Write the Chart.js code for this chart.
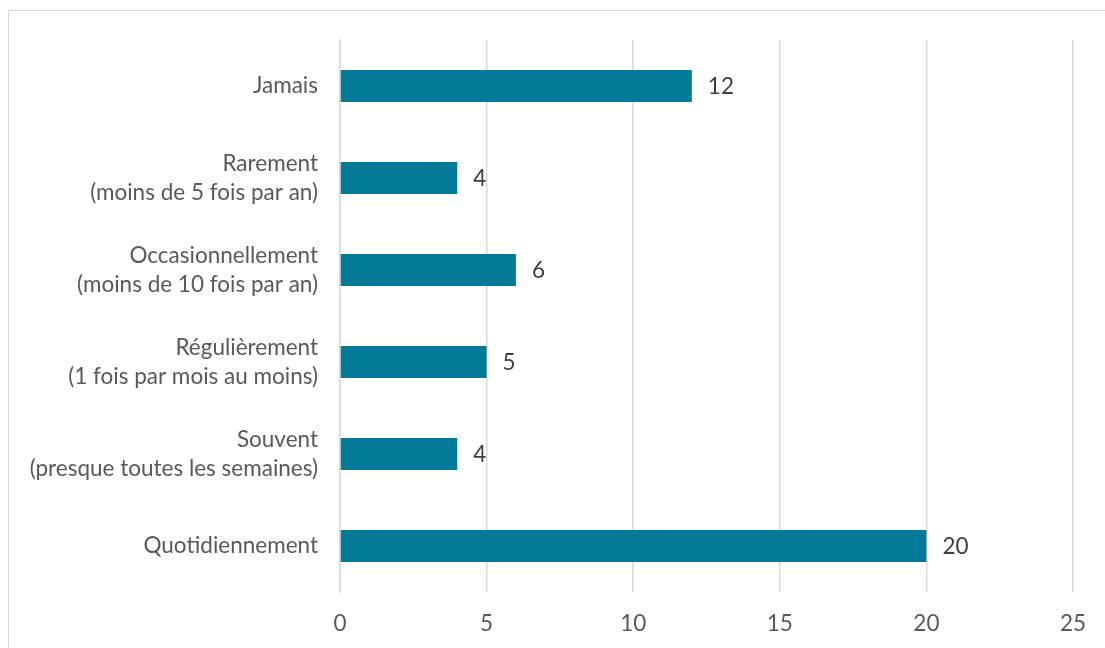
<!DOCTYPE html>
<html>
<head>
<meta charset="utf-8">
<script src="https://cdn.jsdelivr.net/npm/chart.js@4"></script>
<style>
html,body{margin:0;padding:0;background:#fff;overflow:hidden;}
#wrap{position:absolute;left:0;top:0;width:1105px;height:648px;}
#frame{position:absolute;left:8px;top:10px;width:1200px;height:700px;border-left:1.5px solid #d9d9d9;border-top:1.5px solid #d9d9d9;box-sizing:border-box;}
canvas{position:absolute;left:0;top:0;}
</style>
</head>
<body>
<div id="wrap">
<div id="frame"></div>
<canvas id="c" width="1105" height="648"></canvas>
</div>
<script>
const categories = [
  ["Jamais"],
  ["Rarement", "(moins de 5 fois par an)"],
  ["Occasionnellement", "(moins de 10 fois par an)"],
  ["Régulièrement", "(1 fois par mois au moins)"],
  ["Souvent", "(presque toutes les semaines)"],
  ["Quotidiennement"]
];
const values = [12, 4, 6, 5, 4, 20];
const xTicks = [0, 5, 10, 15, 20, 25];

const FONT = "Lato, sans-serif";
const FS = 22.5;
const labelPlugin = {
  id: 'valueLabels',
  afterDatasetsDraw(chart) {
    const ctx = chart.ctx;
    const meta = chart.getDatasetMeta(0);
    ctx.save();
    ctx.font = FS + "px " + FONT;
    ctx.fillStyle = "#404040";
    ctx.textAlign = "left";
    ctx.textBaseline = "middle";
    meta.data.forEach((bar, i) => {
      ctx.fillText(String(values[i]), bar.x + 16, bar.y + 1);
    });
    ctx.restore();
  }
};

new Chart(document.getElementById('c'), {
  type: 'bar',
  data: {
    labels: categories,
    datasets: [{
      data: values,
      backgroundColor: '#047A99',
      borderWidth: 0,
      barPercentage: 0.35,
      categoryPercentage: 1.0
    }]
  },
  options: {
    indexAxis: 'y',
    responsive: false,
    animation: false,
    devicePixelRatio: 1,
    layout: { padding: { top: 40, right: 32, left: 0, bottom: 0 } },
    plugins: { legend: { display: false }, tooltip: { enabled: false } },
    scales: {
      x: {
        min: 0, max: 25,
        afterBuildTicks(scale) { scale.ticks = xTicks.map(v => ({ value: v })); },
        afterFit(scale) { scale.height = 56; },
        grid: { color: '#d9d9d9', lineWidth: 1.5, drawTicks: false },
        border: { display: false },
        ticks: { color: '#595959', font: { family: FONT, size: FS }, padding: 18 }
      },
      y: {
        afterFit(scale) { scale.width = 340; },
        grid: { display: false, drawTicks: false },
        border: { display: true, color: '#d9d9d9', width: 1.5 },
        ticks: { color: '#595959', font: { family: FONT, size: FS, lineHeight: 1.29 }, padding: 22 }
      }
    }
  },
  plugins: [labelPlugin]
});
</script>
</body>
</html>
